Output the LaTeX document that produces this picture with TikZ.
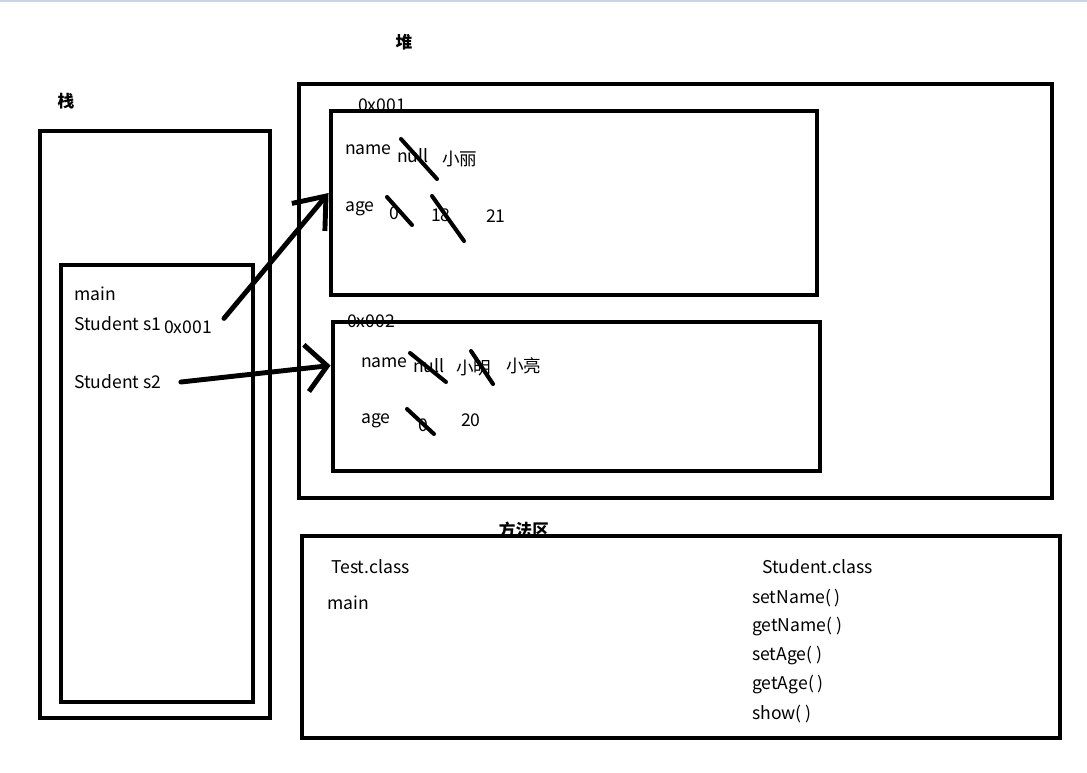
\documentclass[tikz,border=0pt]{standalone}
\usepackage{fontspec}
\setmainfont{Noto Sans CJK SC}
\usetikzlibrary{arrows.meta, positioning, fit}
\definecolor{topline}{HTML}{C9D5E6}
\tikzset{
  areabox/.style={draw=black,line width=2.8pt,inner sep=0pt},
  objbox/.style={areabox},
  fieldtxt/.style={anchor=west,inner sep=1pt,font=\fontsize{10}{12}\selectfont},
  headtxt/.style={inner sep=1pt,font=\fontsize{9.5}{11}\selectfont\bfseries},
  strikeln/.style={line width=2.3pt,line cap=round},
  refedge/.style={-{Straight Barb[length=5.5mm,width=8.6mm]},line width=2.8pt,line cap=round},
  refedgeb/.style={refedge,-{Straight Barb[length=4.2mm,width=9.4mm]}},
}
\begin{document}
\begin{tikzpicture}[x=0.02cm,y=-0.02cm]
  \useasboundingbox (0,0) rectangle (1087,772);
  \draw[topline,line width=1pt] (0,1) -- (1087,1);
  % titles
  \node[headtxt] (hStack) at (66,101) {栈};
  \node[headtxt] (hHeap) at (404,42) {堆};
  \node[headtxt] (hMeth) at (524,530) {方法区};
  \node[fieldtxt] (adr1) at (356,105) {0x001};
  \node[fieldtxt] (adr2) at (345,321) {0x002};
  % stack
  \node[areabox,fit={(40,131)(270,718)}] (stack) {};
  \node[areabox,fit={(61,265)(253,702)}] (mainfr) {};
  \node[fieldtxt] (sMain) at (72,294) {main};
  \node[fieldtxt] (s1) at (72,324) {Student s1};
  \node[fieldtxt] (ptr1) at (162,327) {0x001};
  \node[fieldtxt] (s2) at (72,382) {Student s2};
  % heap
  \node[areabox,fit={(299,84)(1052,498)}] (heap) {};
  \node[objbox,fit={(331,111)(817,295)}] (obj1) {};
  \node[objbox,fit={(333,322)(820,471)}] (obj2) {};
  \node[fieldtxt] (n1) at (343,150) {name};
  \node[fieldtxt] (n1a) at (395,156) {null};
  \node[fieldtxt] (n1b) at (440,159) {小丽};
  \node[fieldtxt] (a1) at (343,209) {age};
  \node[fieldtxt] (a1a) at (387,213) {0};
  \node[fieldtxt] (a1b) at (429,215) {18};
  \node[fieldtxt] (a1c) at (484,216) {21};
  \node[fieldtxt] (n2) at (359,363) {name};
  \node[fieldtxt] (n2a) at (411,366) {null};
  \node[fieldtxt] (n2b) at (454,368) {小明};
  \node[fieldtxt] (n2c) at (504,366) {小亮};
  \node[fieldtxt] (a2) at (359,421) {age};
  \node[fieldtxt] (a2a) at (416,425) {0};
  \node[fieldtxt] (a2b) at (459,420) {20};
  \draw[strikeln] (401,139) -- (437,179);
  \draw[strikeln] (387,197) -- (412,225);
  \draw[strikeln] (432,196) -- (464,241);
  \draw[strikeln] (410,353) -- (446,382);
  \draw[strikeln] (471,351) -- (493,384);
  \draw[strikeln] (407,409) -- (434,434);
  % method area
  \node[areabox,fit={(302,536)(1060,738)}] (meth) {};
  \node[fieldtxt] (tCls) at (329,567) {Test.class};
  \node[fieldtxt] (tMain) at (325,603) {main};
  \node[fieldtxt] (sCls) at (760,567) {Student.class};
  \node[fieldtxt] (m1) at (750,598) {setName( )};
  \node[fieldtxt] (m2) at (750,626) {getName( )};
  \node[fieldtxt] (m3) at (750,655) {setAge( )};
  \node[fieldtxt] (m4) at (750,684) {getAge( )};
  \node[fieldtxt] (m5) at (750,714) {show( )};
  % references
  \draw[refedge] ([xshift=0.2cm]ptr1.north east) -- ([yshift=0.2cm]obj1.west);
  \draw[refedgeb] ([xshift=0.35cm]s2.east) -- ([yshift=0.62cm]obj2.west);
\end{tikzpicture}
\end{document}
